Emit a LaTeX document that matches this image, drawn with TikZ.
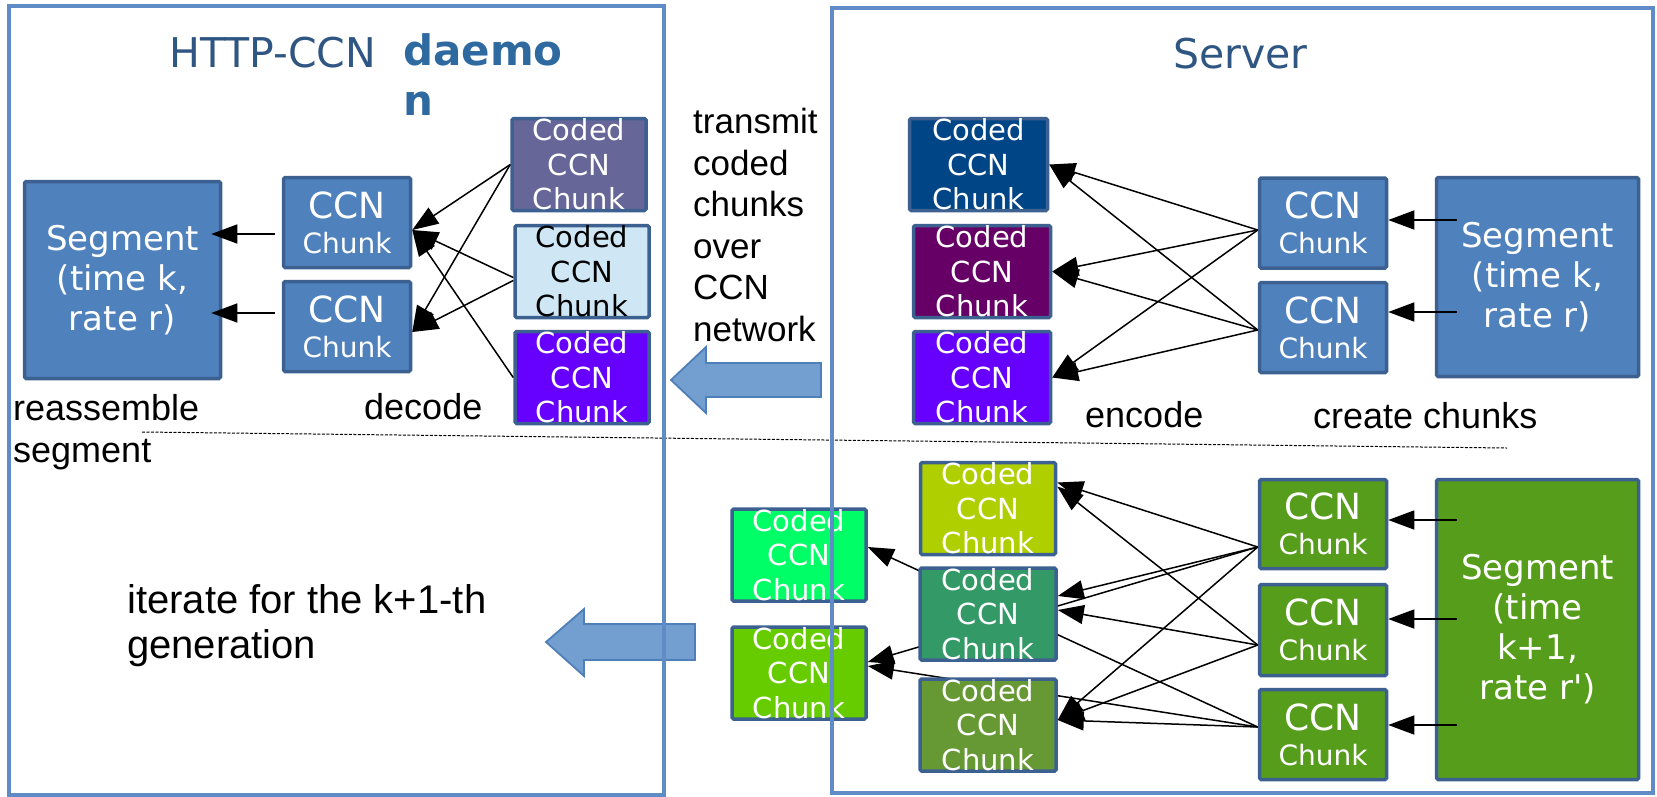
\documentclass[tikz,border=0pt]{standalone}
\usepackage{fontspec}
\setmainfont{Liberation Sans}
\newfontfamily\dv{DejaVu Sans}
\usetikzlibrary{arrows.meta}
\definecolor{colframe}{HTML}{5F8CC6}
\definecolor{colbord}{HTML}{3C6190}
\definecolor{colblue}{HTML}{4F81BD}
\definecolor{colgreen}{HTML}{579D1C}
\definecolor{colA}{HTML}{666699}
\definecolor{colB}{HTML}{CFE7F5}
\definecolor{colC}{HTML}{6600FF}
\definecolor{colD}{HTML}{004586}
\definecolor{colE}{HTML}{660066}
\definecolor{colN}{HTML}{B0CF00}
\definecolor{colO}{HTML}{339966}
\definecolor{colP}{HTML}{669933}
\definecolor{colL}{HTML}{00FF66}
\definecolor{colM}{HTML}{66CC00}
\definecolor{colblkfill}{HTML}{729FCF}
\definecolor{colblkdraw}{HTML}{4F7FB8}
\definecolor{coltitle}{HTML}{2F5682}
\definecolor{coldaemon}{HTML}{2E6AA0}
\begin{document}
\begin{tikzpicture}[x=1pt,y=-1pt,
  bx/.style={draw=colbord, line width=3.5pt, rounded corners=1.5pt, inner sep=0pt, align=center, text=white},
  seg/.style={bx, font=\dv\fontsize{34}{40}\selectfont},
  chk/.style={bx, font=\dv\fontsize{28}{35}\selectfont, minimum width=127pt, minimum height=90pt},
  cod/.style={bx, font=\dv\fontsize{29}{34.5}\selectfont, minimum width=134pt, minimum height=92pt},
  lbl/.style={inner sep=0pt, align=left, font=\fontsize{35}{41.5}\selectfont},
  ttl/.style={inner sep=0pt, text=coltitle, font=\dv\fontsize{41}{48}\selectfont},
  arr/.style={line width=1.5pt, -{Triangle[length=26pt,width=19pt]}},
  blk/.style={fill=colblkfill, draw=colblkdraw, line width=1.8pt},
  frm/.style={draw=colframe, line width=3.5pt},
]
\useasboundingbox (0,0) rectangle (1657,796);

% block arrows (under frames)
\draw[blk] (671,380) -- (706,347) -- (706,363) -- (821,363) -- (821,397) -- (706,397) -- (706,413) -- cycle;
\draw[blk] (546,642) -- (584,609) -- (584,624) -- (695,624) -- (695,660) -- (584,660) -- (584,676) -- cycle;

% titles
\node[ttl, anchor=base west] (tHttp) at (169,67) {HTTP-CCN};
\node[inner sep=0pt, anchor=north west, align=left, text=coldaemon, font=\dv\bfseries\fontsize{42}{50}\selectfont] (tDaemon) at (403,33) {daemo\\n};
\node[ttl, anchor=base west] (tServer) at (1173,68) {Server};

% left (client) side
\node[seg, fill=colblue, minimum width=196pt, minimum height=197pt] (segL) at (122.5,280) {Segment\\(time k,\\rate r)};
\node[chk, fill=colblue] (ch1L) at (347,222.5) {{\fontsize{36}{36}\selectfont CCN}\\Chunk};
\node[chk, fill=colblue] (ch2L) at (347,326.5) {{\fontsize{36}{36}\selectfont CCN}\\Chunk};
\node[cod, fill=colA] (cA) at (579,164.5) {Coded\\CCN\\Chunk};
\node[cod, fill=colB, text=black] (cB) at (582,271.5) {Coded\\CCN\\Chunk};
\node[cod, fill=colC] (cC) at (582,377.5) {Coded\\CCN\\Chunk};

\draw[arr] (cA.west) -- ([yshift=-7.5pt]ch1L.east);
\draw[arr] (cA.west) -- ([yshift=-5.5pt]ch2L.east);
\draw[arr] ([yshift=-6pt]cB.west) -- ([yshift=-7.5pt]ch1L.east);
\draw[arr] ([yshift=-9pt]cB.west) -- ([yshift=-5.5pt]ch2L.east);
\draw[arr] (cC.west) -- ([yshift=-7.5pt]ch1L.east);
\draw[arr] ([shift={(-7pt,-11.5pt)}]ch1L.west) -- ([shift={(-11pt,46pt)}]segL.east);
\draw[arr] ([shift={(-7pt,13.5pt)}]ch2L.west) -- ([shift={(-11pt,-33pt)}]segL.east);

% right (server) side, time k
\node[seg, fill=colblue, minimum width=202pt, minimum height=199pt] (segR) at (1537.5,277) {Segment\\(time k,\\rate r)};
\node[chk, fill=colblue] (G) at (1323,223) {{\fontsize{36}{36}\selectfont CCN}\\Chunk};
\node[chk, fill=colblue] (H) at (1323,327.5) {{\fontsize{36}{36}\selectfont CCN}\\Chunk};
\node[cod, fill=colD, minimum width=138pt] (D) at (978.5,164.5) {Coded\\CCN\\Chunk};
\node[cod, fill=colE, minimum width=137pt] (E) at (982,271.5) {Coded\\CCN\\Chunk};
\node[cod, fill=colC, minimum width=137pt] (F) at (982,377.5) {Coded\\CCN\\Chunk};

\draw[arr] ([shift={(22pt,57pt)}]segR.west) -- ([yshift=3pt]G.east);
\draw[arr] ([shift={(22pt,-35pt)}]segR.west) -- ([yshift=15.5pt]H.east);
\foreach \t in {D,E,F} {
  \draw[arr] ([yshift=-7pt]G.west) -- (\t.east);
  \draw[arr] ([yshift=-2.5pt]H.west) -- (\t.east);
}

% right (server) side, time k+1
\node[seg, fill=colgreen, minimum width=202pt, minimum height=300pt] (segG) at (1537.5,629.5) {Segment\\(time\\k+1,\\rate r')};
\node[chk, fill=colgreen, minimum height=89pt] (I) at (1323,524) {{\fontsize{36}{36}\selectfont CCN}\\Chunk};
\node[chk, fill=colgreen, minimum height=91pt] (J) at (1323,630) {{\fontsize{36}{36}\selectfont CCN}\\Chunk};
\node[chk, fill=colgreen, minimum height=90pt] (K) at (1323,734.5) {{\fontsize{36}{36}\selectfont CCN}\\Chunk};
\node[cod, fill=colL] (L) at (799,555) {Coded\\CCN\\Chunk};
\node[cod, fill=colM] (M) at (799,673) {Coded\\CCN\\Chunk};

\draw[arr] ([shift={(22pt,109.5pt)}]segG.west) -- ([yshift=4pt]I.east);
\draw[arr] ([shift={(22pt,10.5pt)}]segG.west) -- ([yshift=11pt]J.east);
\draw[arr] ([shift={(22pt,-95.5pt)}]segG.west) -- ([yshift=9.5pt]K.east);

\coordinate (Io) at ([yshift=-23pt]I.west);
\coordinate (Jo) at ([yshift=-15pt]J.west);
\coordinate (Ko) at ([yshift=7.5pt]K.west);
% lines running behind the middle coded column
\draw[arr] (Io) -- ([yshift=11pt]M.east);
\draw[arr] (Ko) -- ([yshift=8pt]L.east);
\draw[arr] (Ko) -- ([yshift=7pt]M.east);

\node[cod, fill=colN, minimum width=135pt] (N) at (988,508.5) {Coded\\CCN\\Chunk};
\node[cod, fill=colO, minimum width=136pt] (O) at (988,614) {Coded\\CCN\\Chunk};
\node[cod, fill=colP, minimum width=136pt] (P) at (988,725) {Coded\\CCN\\Chunk};

\draw[arr] (Io) -- ([yshift=26pt]N.east);
\draw[arr] (Jo) -- ([yshift=22pt]N.east);
\draw[arr] (Io) -- ([yshift=18pt]O.east);
\draw[arr] (Jo) -- ([yshift=4pt]O.east);
\draw[arr] (Io) -- ([yshift=5pt]P.east);
\draw[arr] (Jo) -- ([yshift=5pt]P.east);
\draw[arr] (Ko) -- ([yshift=5pt]P.east);

% labels
\node[lbl, anchor=north west] (lTransmit) at (693,108) {transmit\\coded\\chunks\\over\\CCN\\network};
\node[lbl, anchor=north west, font=\fontsize{36}{42}\selectfont] (lReass) at (13,394) {reassemble\\segment};
\node[lbl, anchor=base west, font=\fontsize{36}{42}\selectfont] (lDecode) at (364,419) {decode};
\node[lbl, anchor=base west, font=\fontsize{36}{42}\selectfont] (lEncode) at (1085,427) {encode};
\node[lbl, anchor=base west, font=\fontsize{36}{42}\selectfont] (lCreate) at (1313,428) {create chunks};
\node[lbl, anchor=north west, font=\fontsize{40}{45}\selectfont] (lIter) at (127,584.4) {iterate for the k+1-th\\generation};

% separator
\draw[line width=1pt, dash pattern=on 3pt off 1.5pt] (142,432) -- (1507,448);

% frames
\draw[frm] (9,6) rectangle (664,795);
\draw[frm] (832,8) rectangle (1653,793);
\end{tikzpicture}
\end{document}
